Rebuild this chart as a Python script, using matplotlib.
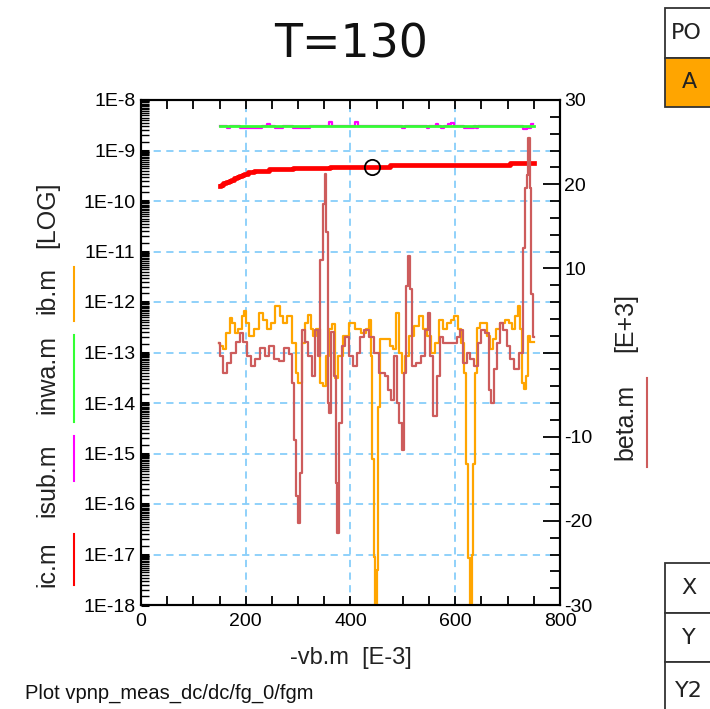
import numpy as np
import matplotlib
matplotlib.use('Agg')
import matplotlib.pyplot as plt
from matplotlib.ticker import FixedLocator, LogLocator, MultipleLocator, NullFormatter
from matplotlib.patches import Rectangle
from matplotlib.lines import Line2D

plt.rcParams['font.family'] = ['Liberation Sans', 'DejaVu Sans']

# ic.m (A)
ic_x = [150, 155, 160, 165, 170, 175, 180, 185, 190, 195, 200, 210, 220, 230, 260, 320, 400, 450, 500, 600, 700, 710, 720, 750]
ic_v = [2.0e-10, 2.1e-10, 2.25e-10, 2.4e-10, 2.5e-10, 2.65e-10, 2.8e-10, 2.95e-10, 3.1e-10, 3.3e-10, 3.5e-10,
        3.75e-10, 3.9e-10, 4.0e-10, 4.25e-10, 4.6e-10, 4.8e-10, 4.8e-10, 5.1e-10, 5.15e-10, 5.2e-10, 5.6e-10,
        5.65e-10, 5.75e-10]

# inwa.m
inwa_x = [150, 750]
inwa_v = [3.09e-9, 3.09e-9]

# isub.m
isub_x = [150, 162, 167, 172, 205, 214, 224, 238, 243, 248, 262, 268, 275, 305, 316, 328, 355, 361, 367, 406, 412, 418,
          495, 501, 507, 544, 548, 552, 562, 566, 570, 577, 580, 584, 590, 595, 600, 612, 622, 632, 638, 641, 644,
          725, 733, 742, 749]
isub_v = [3.09e-9, 3.09e-9, 2.8e-9, 3.09e-9, 2.8e-9, 2.78e-9, 2.8e-9, 3.09e-9, 3.4e-9, 3.09e-9, 2.8e-9, 2.78e-9,
          3.09e-9, 2.8e-9, 2.78e-9, 3.09e-9, 3.09e-9, 3.7e-9, 3.09e-9, 3.09e-9, 3.7e-9, 3.09e-9,
          3.09e-9, 2.75e-9, 3.09e-9, 3.09e-9, 2.8e-9, 3.09e-9, 3.09e-9, 3.4e-9, 3.09e-9, 2.8e-9, 3.09e-9, 3.09e-9,
          3.4e-9, 3.45e-9, 3.09e-9, 3.09e-9, 2.8e-9, 2.8e-9, 3.09e-9, 2.85e-9, 3.09e-9,
          3.09e-9, 2.7e-9, 2.8e-9, 3.3e-9]

# ib.m (log10 of A)
ib_x = [149, 153, 160, 166, 172, 177, 183, 189, 195, 198, 204, 210, 220, 229, 238, 245, 252, 261, 268, 275, 284,
        294, 298, 303, 310, 316, 321, 327, 331, 339, 345, 351, 356, 361, 367, 373, 380, 390, 403, 416, 425, 433,
        437, 440, 443, 445, 449, 451, 454, 458,
        461, 470, 479, 485, 490, 494, 501, 507, 517, 526, 536, 542, 551, 558, 564, 574, 580, 587, 595, 601, 608,
        614, 618, 622, 626, 630, 633, 636, 639, 645, 650, 657, 663, 669, 675, 682, 690, 700, 706, 712, 717, 722,
        726, 730, 733, 736, 740, 746, 750]
ib_log = [-12.81, -12.87, -12.94, -12.61, -12.31, -12.41, -12.61, -12.54, -12.28, -12.18, -12.41, -12.68, -12.54,
          -12.21, -12.35, -12.54, -12.41, -12.08, -12.28, -12.41, -12.28, -12.81, -13.40, -13.60, -12.81, -12.41,
          -12.25, -12.54, -12.68, -12.54, -13.60, -13.66, -13.07, -12.54, -12.44, -13.50, -13.07, -12.68, -12.41,
          -12.54, -12.61, -12.54, -12.35, -13.07, -15.1, -17.05, -18.3, -17.3, -14.07, -12.74,
          -12.74, -12.74, -12.87, -12.94, -12.21, -13.0, -13.40, -13.07, -12.68, -12.48, -12.28, -12.54, -12.68,
          -13.0, -12.81, -12.35, -12.54, -12.41, -12.35, -12.28, -12.54, -12.81, -13.40, -15.21, -17.07, -18.3,
          -17.0, -15.2, -13.40, -12.51, -12.41, -12.41, -12.68, -12.94, -12.74, -12.54, -12.41, -12.35, -12.41,
          -12.54, -12.28, -12.08, -12.54, -13.60, -13.73, -13.47, -12.68, -12.80, -12.80]

# beta.m (E+3)
beta_x = [149, 153, 160, 167, 176, 186, 192, 198, 205, 214,
          223, 233, 242, 248, 259, 269, 278, 286, 291, 294,
          298, 302, 305, 310, 316, 323, 329, 335, 340, 345,
          349, 352, 355, 358, 361, 366, 370, 373, 377, 380,
          386, 392, 402, 408, 415, 421, 431, 440, 450, 459,
          462, 469, 475, 480, 485, 491, 496, 499, 504, 508,
          512, 516, 520, 529, 539, 545, 550, 555, 561, 568,
          574, 580, 590, 599, 606, 612, 618, 625, 631, 641,
          647, 653, 661, 666, 671, 676, 682, 689, 695, 701,
          708, 717, 727, 731, 735, 738, 741, 744, 747, 750]
beta_v = [1.15, -0.4, -2.4, -1.2, 0.0, 1.2, 2.3, 1.2, -0.4, -1.6,
          -0.8, 0.5, -0.4, 0.75, -0.8, -1.0, 0.5, -0.2, -3.6, -10.4,
          -17.1, -20.3, -14.3, 2.7, 1.2, -0.4, -2.8, 2.7, -0.4, 11.0,
          17.6, 21.2, 14.3, -6.0, -7.2, 2.4, -2.8, -15.5, -21.5, -8.4,
          0.75, 1.9, -0.4, -1.6, 0.0, 1.9, 2.7, 1.9, 0.0, -2.4,
          -2.4, -2.8, -4.4, -5.6, -0.4, -6.0, -8.4, -11.6, -2.4, 7.9,
          11.5, 7.5, -1.6, -1.2, -0.4, 2.7, 4.7, -0.4, -7.5, -2.8,
          1.9, 1.1, 1.1, 1.1, 1.9, 2.7, -1.2, 0.0, -0.8, -1.6,
          1.1, 2.7, 2.3, -4.4, -6.0, -2.0, 1.1, 3.5, 2.7, 0.75,
          -0.8, -2.0, 0.0, 12.4, 19.5, 21.1, 25.5, 19.5, 7.0, 1.9]

marker_x = 441
marker_v = 4.8e-10

x_ticks = [0, 200, 400, 600, 800]
y_ticks = [1e-18, 1e-17, 1e-16, 1e-15, 1e-14, 1e-13, 1e-12, 1e-11, 1e-10, 1e-9, 1e-8]
y_labels = ['1E-18', '1E-17', '1E-16', '1E-15', '1E-14', '1E-13', '1E-12', '1E-11', '1E-10', '1E-9', '1E-8']
y2_ticks = [-30, -20, -10, 0, 10, 20, 30]
y2_labels = ['-30', '-20', '-10', '', '10', '20', '30']

c_ic = '#FF0000'
c_isub = '#FF00FF'
c_inwa = '#33FF33'
c_ib = '#FFA500'
c_beta = '#CD5C5C'
c_grid = '#87CEFA'
c_text = '#222222'

W, H = 710, 709
fig = plt.figure(figsize=(W / 100, H / 100), dpi=100)


def fx(px):
    return px / W


def fy(py):
    return 1 - py / H


ax = fig.add_axes([fx(141), fy(605), fx(560) - fx(141), fy(100) - fy(605)])
ax.set_yscale('log')
ax.set_xlim(0, 800)
ax.set_ylim(1e-18, 1e-8)

ax.plot(isub_x, isub_v, color=c_isub, lw=1.6, drawstyle='steps-mid', zorder=3)
ax.plot(inwa_x, inwa_v, color=c_inwa, lw=2.0, zorder=4)
ax.plot(ic_x, ic_v, color=c_ic, lw=3.4, drawstyle='steps-mid', zorder=4)
ax.plot(ib_x, 10.0 ** np.array(ib_log), color=c_ib, lw=1.6, drawstyle='steps-mid', zorder=3)
ax.plot([marker_x], [marker_v], 'o', mfc='none', mec='black', ms=11, mew=1.3, zorder=6)

ax.xaxis.set_major_locator(FixedLocator(x_ticks))
ax.xaxis.set_minor_locator(MultipleLocator(50))
ax.yaxis.set_major_locator(FixedLocator(y_ticks))
ax.set_yticklabels(y_labels)
ax.yaxis.set_minor_locator(LogLocator(base=10, subs=np.arange(1.5, 10, 0.5), numticks=30))
ax.yaxis.set_minor_formatter(NullFormatter())
ax.tick_params(axis='x', which='both', direction='in', top=True, bottom=True, length=6.5, width=1.3,
               labelsize=14, pad=6)
ax.tick_params(axis='y', which='major', direction='in', left=True, right=False, length=6, width=2.2,
               labelsize=14, pad=4)
ax.tick_params(axis='y', which='minor', direction='in', left=True, right=False, length=5.5, width=1.0)
ax.grid(True, which='major', color=c_grid, linestyle=(0, (4, 3)), lw=1.3)
for s in ax.spines.values():
    s.set_linewidth(1.5)

ax2 = ax.twinx()
ax2.set_ylim(-30, 30)
ax2.plot(beta_x, beta_v, color=c_beta, lw=1.6, drawstyle='steps-mid', zorder=3)
ax2.yaxis.set_major_locator(FixedLocator(y2_ticks))
ax2.set_yticklabels(y2_labels)
ax2.yaxis.set_minor_locator(MultipleLocator(2))
ax2.tick_params(axis='y', which='major', direction='in', length=12, width=1.3, labelsize=14, pad=3)
ax2.tick_params(axis='y', which='minor', direction='in', length=7, width=1.3)
for s in ax2.spines.values():
    s.set_linewidth(1.5)

ax.set_xlabel('-vb.m  [E-3]', fontsize=17, labelpad=12, color=c_text)

# title
fig.text(fx(351), fy(45), 'T=130', ha='center', va='center', fontsize=33, family='DejaVu Sans', color='#111111')

# left axis label pieces with colour keys
left_parts = [('ic.m', 564, c_ic, 534, 585), ('isub.m', 480, c_isub, 436, 481), ('inwa.m', 375, c_inwa, 335, 422),
              ('ib.m', 290, c_ib, 267, 321)]
for txt, yc, col, y0, y1 in left_parts:
    fig.text(fx(47), fy(yc), txt, rotation=90, ha='center', va='center', fontsize=18, color=c_text)
    fig.add_artist(Line2D([fx(74), fx(74)], [fy(y0), fy(y1)], color=col, lw=1.5))
fig.text(fx(47), fy(215), '[LOG]', rotation=90, ha='center', va='center', fontsize=18, color=c_text)

# right axis label
fig.text(fx(625), fy(422), 'beta.m', rotation=90, ha='center', va='center', fontsize=18, color=c_text)
fig.text(fx(625), fy(322), '[E+3]', rotation=90, ha='center', va='center', fontsize=18, color=c_text)
fig.add_artist(Line2D([fx(647), fx(647)], [fy(378), fy(467)], color=c_beta, lw=1.5))

# footer
fig.text(fx(25), fy(693), 'Plot vpnp_meas_dc/dc/fg_0/fgm', ha='left', va='center', fontsize=14.5, color='#111111')

# cropped side tables
cells = [(8, 58, 'PO', 'white', 'left'), (58, 107, 'A', '#FFA500', 'center'),
         (563, 613, 'X', 'white', 'center'), (613, 662, 'Y', 'white', 'center'), (662, 720, 'Y2', 'white', 'center')]
for y0, y1, txt, fc, al in cells:
    fig.add_artist(Rectangle((fx(665), fy(y1)), fx(80), fy(y0) - fy(y1), transform=fig.transFigure,
                             facecolor=fc, edgecolor='#333333', lw=1.3))
    tx = fx(671) if al == 'left' else fx(689)
    fig.text(tx, fy((y0 + y1) / 2), txt, ha=al, va='center', fontsize=16, family='DejaVu Sans', color=c_text)

fig.savefig('out.png', dpi=100)
